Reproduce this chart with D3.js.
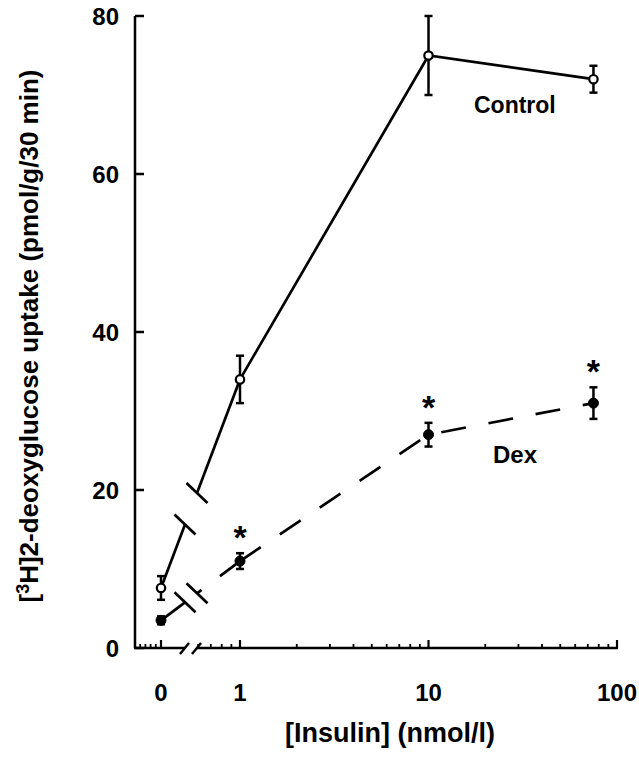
<!DOCTYPE html>
<html>
<head>
<meta charset="utf-8">
<script src="https://cdn.jsdelivr.net/npm/d3@7"></script>
<style>
  body { margin: 0; background: #fff; }
  svg text { font-family: "Liberation Sans", Arial, sans-serif; fill: #000; font-weight: bold; }
</style>
</head>
<body>
<div id="chart" style="width:639px;height:759px;"></div>
<script>
// insulin doses (nmol/l), 0 sits on its own little segment left of the break
const doses = [0, 1, 10, 75];
const controlMean = [7.6, 34, 75, 72];
const controlErr = [1.5, 3, 5, 1.7];
const dexMean = [3.5, 11, 27, 31];
const dexErr = [0.5, 1, 1.5, 2];
const dexStar = [false, true, true, true];

const yTicks = [0, 20, 40, 60, 80];
const xMajorTicks = [1, 10, 100];
const xMinorTicks = [0.6, 0.7, 0.8, 0.9, 2, 3, 4, 5, 6, 7, 8, 9, 20, 30, 40, 50, 60, 70, 80, 90];
const zeroMinorTicks = [-0.8, -0.6, -0.4, -0.2];

class Figure {
  constructor(id) {
    this.svg = d3.select('#' + id).append('svg')
      .attr('width', 639)
      .attr('height', 759);
    this.y = d3.scaleLinear().domain([0, 80]).range([648, 16]);
    this.xLog = d3.scaleLog().domain([1, 100]).range([240, 617]);
    // zero segment before the axis break
    this.xZero = d3.scaleLinear().domain([-1, 0]).range([135, 161]);
    this.breakX = [185, 197];
  }

  xPos(d) {
    return d === 0 ? this.xZero(0) : this.xLog(d);
  }

  draw() {
    this.drawAxes();
    this.drawSeries(controlMean, controlErr, false);
    this.drawSeries(dexMean, dexErr, true);
    this.drawStars();
    this.drawLabels();
  }

  drawAxes() {
    const g = this.svg.append('g');
    const y0 = this.y(0);
    const stroke = 2.5;

    // y axis, ticks pointing inward
    g.append('line')
      .attr('x1', 135).attr('x2', 135)
      .attr('y1', this.y(80)).attr('y2', y0)
      .attr('stroke', '#000').attr('stroke-width', stroke);
    g.selectAll('.ytick').data(yTicks).enter().append('line')
      .attr('x1', 135).attr('x2', 144)
      .attr('y1', d => this.y(d)).attr('y2', d => this.y(d))
      .attr('stroke', '#000').attr('stroke-width', stroke);
    g.selectAll('.ylab').data(yTicks).enter().append('text')
      .attr('x', 119).attr('y', d => this.y(d))
      .attr('dy', '0.36em')
      .attr('text-anchor', 'end')
      .style('font-size', '24px')
      .text(d => d);

    // x axis in two pieces
    g.append('line')
      .attr('x1', 134).attr('x2', this.breakX[0])
      .attr('y1', y0).attr('y2', y0)
      .attr('stroke', '#000').attr('stroke-width', stroke);
    g.append('line')
      .attr('x1', this.breakX[1]).attr('x2', this.xLog(100) + 1)
      .attr('y1', y0).attr('y2', y0)
      .attr('stroke', '#000').attr('stroke-width', stroke);
    g.selectAll('.brk').data(this.breakX).enter().append('line')
      .attr('x1', d => d - 5).attr('x2', d => d + 4)
      .attr('y1', y0 + 6).attr('y2', y0 - 5)
      .attr('stroke', '#000').attr('stroke-width', 2.4);

    const majors = [{ x: this.xZero(0), t: '0' }].concat(xMajorTicks.map(d => ({ x: this.xLog(d), t: d })));
    g.selectAll('.xmaj').data(majors).enter().append('line')
      .attr('x1', d => d.x).attr('x2', d => d.x)
      .attr('y1', y0).attr('y2', y0 - 8)
      .attr('stroke', '#000').attr('stroke-width', 2.2);
    const minors = zeroMinorTicks.map(d => this.xZero(d)).concat(xMinorTicks.map(d => this.xLog(d)));
    g.selectAll('.xmin').data(minors).enter().append('line')
      .attr('x1', d => d).attr('x2', d => d)
      .attr('y1', y0).attr('y2', y0 - 4)
      .attr('stroke', '#000').attr('stroke-width', 1.8);
    g.selectAll('.xlab').data(majors).enter().append('text')
      .attr('x', d => d.x).attr('y', 701)
      .attr('text-anchor', 'middle')
      .style('font-size', '24px')
      .text(d => d.t);
  }

  drawSeries(mean, err, dashed) {
    const g = this.svg.append('g');
    const pts = doses.map((d, i) => [this.xPos(d), this.y(mean[i])]);
    const dash = dashed ? '25,23' : null;
    const line = d3.line();

    // point on the 0 -> 1 segment at a given x
    const at = x => {
      const t = (x - pts[0][0]) / (pts[1][0] - pts[0][0]);
      return [x, pts[0][1] + t * (pts[1][1] - pts[0][1])];
    };
    const b0 = at(this.breakX[0]);
    const b1 = at(this.breakX[1]);

    g.append('path').attr('d', line([pts[0], b0]))
      .attr('fill', 'none').attr('stroke', '#000').attr('stroke-width', 2.7);
    // drawn from the 1 point backwards so the dashes start at the marker
    g.append('path').attr('d', line([pts[1], b1]))
      .attr('fill', 'none').attr('stroke', '#000').attr('stroke-width', 2.7)
      .attr('stroke-dasharray', dash);
    g.append('path').attr('d', line(pts.slice(1)))
      .attr('fill', 'none').attr('stroke', '#000').attr('stroke-width', 2.7)
      .attr('stroke-dasharray', dash);

    // break caps on the line
    g.selectAll('.cap').data([b0, b1]).enter().append('line')
      .attr('x1', d => d[0] - 10.5).attr('y1', d => d[1] - 10)
      .attr('x2', d => d[0] + 10.5).attr('y2', d => d[1] + 10)
      .attr('stroke', '#000').attr('stroke-width', 2.7);

    // error bars
    const eb = g.selectAll('.eb').data(doses).enter().append('g');
    eb.append('line')
      .attr('x1', (d, i) => pts[i][0]).attr('x2', (d, i) => pts[i][0])
      .attr('y1', (d, i) => this.y(mean[i] + err[i]))
      .attr('y2', (d, i) => this.y(mean[i] - err[i]))
      .attr('stroke', '#000').attr('stroke-width', 2.5);
    [1, -1].forEach(s => {
      eb.append('line')
        .attr('x1', (d, i) => pts[i][0] - 4).attr('x2', (d, i) => pts[i][0] + 4)
        .attr('y1', (d, i) => this.y(mean[i] + s * err[i]))
        .attr('y2', (d, i) => this.y(mean[i] + s * err[i]))
        .attr('stroke', '#000').attr('stroke-width', 2.5);
    });

    g.selectAll('.pt').data(pts).enter().append('circle')
      .attr('cx', d => d[0]).attr('cy', d => d[1])
      .attr('r', dashed ? 5 : 4.2)
      .attr('fill', dashed ? '#000' : '#fff')
      .attr('stroke', '#000').attr('stroke-width', dashed ? 1 : 2.2);
  }

  drawStars() {
    const idx = doses.map((d, i) => i).filter(i => dexStar[i]);
    this.svg.selectAll('.star').data(idx).enter().append('text')
      .attr('x', i => this.xPos(doses[i]))
      .attr('y', i => this.y(dexMean[i] + dexErr[i]) - 4)
      .attr('text-anchor', 'middle')
      .style('font-size', '34px')
      .text('*');
  }

  drawLabels() {
    this.svg.append('text')
      .attr('x', 474).attr('y', 113)
      .style('font-size', '23px')
      .text('Control');
    this.svg.append('text')
      .attr('x', 493).attr('y', 463)
      .style('font-size', '24px')
      .text('Dex');

    this.svg.append('text')
      .attr('x', 390).attr('y', 742)
      .attr('text-anchor', 'middle')
      .style('font-size', '27px')
      .text('[Insulin] (nmol/l)');

    const yt = this.svg.append('text')
      .attr('transform', 'translate(38,336) rotate(-90)')
      .attr('text-anchor', 'middle')
      .style('font-size', '26px');
    yt.append('tspan').text('[');
    yt.append('tspan').attr('dy', -9).style('font-size', '18px').text('3');
    yt.append('tspan').attr('dy', 9).text('H]2-deoxyglucose uptake (pmol/g/30 min)');
  }
}

new Figure('chart').draw();
</script>
</body>
</html>
